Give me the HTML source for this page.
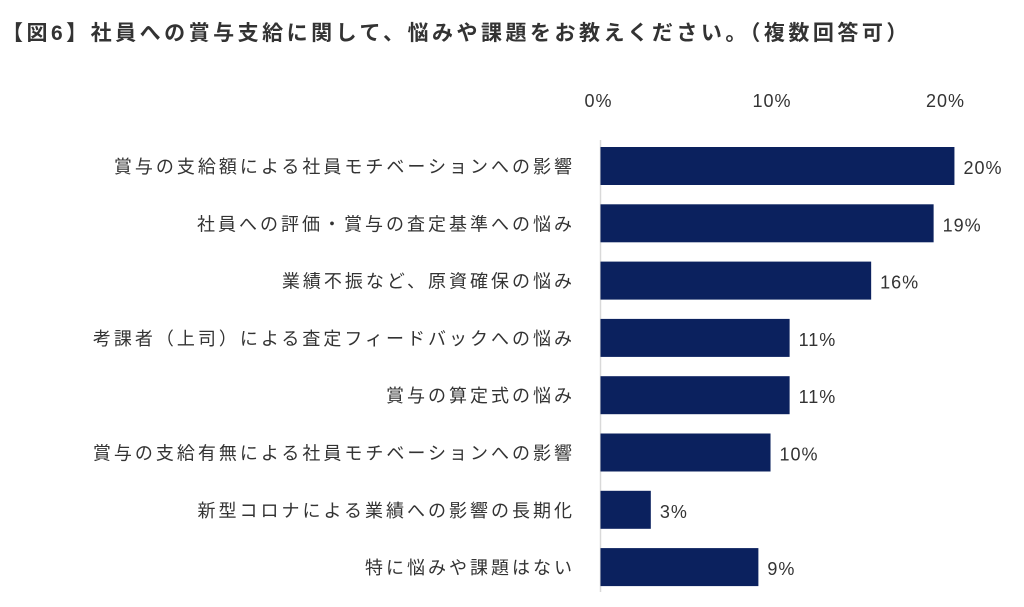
<!DOCTYPE html>
<html><head><meta charset="utf-8"><style>
body{margin:0;background:#fff;}
svg{display:block;font-family:"Liberation Sans","Noto Sans CJK JP",sans-serif;}
</style></head><body>
<svg id="chart" width="1024" height="607">
<text x="2" y="40" font-size="21" font-weight="bold" letter-spacing="3.5" fill="#333">【図6】社員への賞与支給に関して、悩みや課題をお教えください。（複数回答可）</text>
<line x1="600.5" y1="140" x2="600.5" y2="592" stroke="#d9d9d9" stroke-width="1.5"/>
<g id="ticks"></g><g id="bars"></g>
</svg>
<script>
const categories=["賞与の支給額による社員モチベーションへの影響","社員への評価・賞与の査定基準への悩み","業績不振など、原資確保の悩み","考課者（上司）による査定フィードバックへの悩み","賞与の算定式の悩み","賞与の支給有無による社員モチベーションへの影響","新型コロナによる業績への影響の長期化","特に悩みや課題はない"];
const values=[20.4,19.2,15.6,10.9,10.9,9.8,2.9,9.1];
const valueLabels=["20%","19%","16%","11%","11%","10%","3%","9%"];
const tickValues=[0,10,20];
const tickLabels=["0%","10%","20%"];
const NS="http://www.w3.org/2000/svg";
const x0=600.5, pxPer=17.35;
const xs=v=>x0+v*pxPer;
const ys=i=>147+i*57.3;
const barH=38;
const tg=document.getElementById('ticks'), bg=document.getElementById('bars');
function mk(t,a,p){const e=document.createElementNS(NS,t);for(const k in a)e.setAttribute(k,a[k]);p.appendChild(e);return e;}
tickValues.forEach((v,i)=>{
 const t=mk('text',{x:xs(v)-2,y:107,'font-size':18,'letter-spacing':1,fill:'#333','text-anchor':'middle'},tg);
 
 
 t.textContent=tickLabels[i];
});
categories.forEach((c,i)=>{
 const y=ys(i);
 const l=mk('text',{x:575,y:y+barH/2+7,'font-size':18,'letter-spacing':3,fill:'#333','text-anchor':'end'},bg);
 
 
 l.textContent=c;
 const r=mk('rect',{x:x0,y:y,width:xs(values[i])-x0,height:barH,fill:'#0b215e'},bg);
 
 
 const v=mk('text',{x:xs(values[i])+9,y:y+barH/2+8,'font-size':18,'letter-spacing':1,fill:'#333'},bg);
 
 
 v.textContent=valueLabels[i];
});
</script>
</body></html>
